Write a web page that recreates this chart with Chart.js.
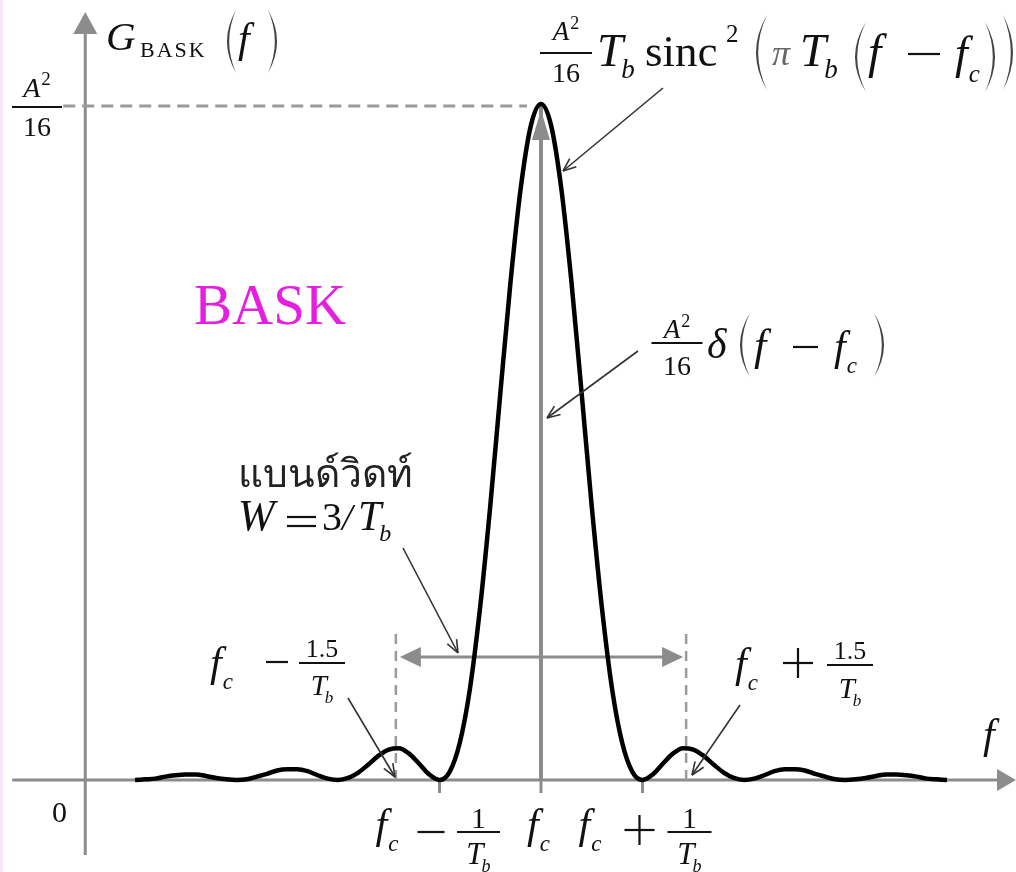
<!DOCTYPE html>
<html>
<head>
<meta charset="utf-8">
<script src="https://cdn.jsdelivr.net/npm/chart.js@4.4.1/dist/chart.umd.min.js"></script>
<style>
  html, body { margin: 0; padding: 0; background: #fff; }
  #wrap { position: relative; width: 1016px; height: 872px; }
</style>
</head>
<body>
<div id="wrap"><canvas id="psd" width="1016" height="872"></canvas></div>
<script>
// Frequency offset from the carrier f_c, in units of 1/T_b
const offsets = [
  -4.0, -3.9, -3.8, -3.7, -3.6, -3.5, -3.4, -3.3, -3.2, -3.1,
  -3.0, -2.9, -2.8, -2.7, -2.6, -2.5, -2.4, -2.3, -2.2, -2.1,
  -2.0, -1.9, -1.8, -1.7, -1.6, -1.5, -1.4, -1.3, -1.2, -1.1,
  -1.0, -0.9, -0.8, -0.7, -0.6, -0.5, -0.4, -0.3, -0.2, -0.1,
   0.0,
   0.1,  0.2,  0.3,  0.4,  0.5,  0.6,  0.7,  0.8,  0.9,  1.0,
   1.1,  1.2,  1.3,  1.4,  1.5,  1.6,  1.7,  1.8,  1.9,  2.0,
   2.1,  2.2,  2.3,  2.4,  2.5,  2.6,  2.7,  2.8,  2.9,  3.0,
   3.1,  3.2,  3.3,  3.4,  3.5,  3.6,  3.7,  3.8,  3.9,  4.0
];

// BASK power spectral density, in units of A^2/16 (peak at f_c)
const psd = [
  0.000, 0.001, 0.002, 0.005, 0.007, 0.008, 0.008, 0.006, 0.003, 0.001,
  0.000, 0.001, 0.005, 0.009, 0.014, 0.016, 0.016, 0.013, 0.007, 0.002,
  0.000, 0.003, 0.011, 0.023, 0.036, 0.045, 0.047, 0.039, 0.024, 0.008,
  0.000, 0.012, 0.055, 0.135, 0.255, 0.405, 0.573, 0.737, 0.875, 0.968,
  1.000,
  0.968, 0.875, 0.737, 0.573, 0.405, 0.255, 0.135, 0.055, 0.012, 0.000,
  0.008, 0.024, 0.039, 0.047, 0.045, 0.036, 0.023, 0.011, 0.003, 0.000,
  0.002, 0.007, 0.013, 0.016, 0.016, 0.014, 0.009, 0.005, 0.001, 0.000,
  0.001, 0.003, 0.006, 0.008, 0.008, 0.007, 0.005, 0.002, 0.001, 0.000
];

// Carrier impulse (A^2/16) delta(f - f_c)
const impulseOffsets = [0, 0];
const impulseLevels = [0, 1];

// Marked frequencies on the f axis: f_c - 1/T_b, f_c, f_c + 1/T_b
const tickOffsets = [-1, 0, 1];
const tickSigns = ['-', '', '+'];

// Bandwidth markers around f_c +- 1.5/T_b (drawn at the first side-lobe peaks)
const bandEdges = [-1.43, 1.43];
const bandArrowLevel = 0.182;
const bandMarkerTop = 0.218;

// Axis extents, in data units
const view = { xMin: -5.33, xMax: 4.68, yMin: -0.1361, yMax: 1.1538 };
const axisExtent = { yAxisAt: -4.49, xFrom: -5.21, xTo: 4.68, yFrom: -0.111, yTo: 1.136 };

const SERIF = '"Liberation Serif", "DejaVu Serif", serif';
const INK = '#111';
const GREY = '#8c8c8c';

function run(ctx, x, y, segs, measureOnly) {
  let cx = x;
  for (const s of segs) {
    ctx.font = (s.it ? 'italic ' : '') + s.sz + 'px ' + (s.ff || SERIF);
    ctx.letterSpacing = (s.ls || 0) + 'px';
    const w = ctx.measureText(s.t).width;
    cx += (s.dx || 0);
    if (!measureOnly) {
      ctx.fillStyle = s.c || INK;
      ctx.fillText(s.t, cx, y + (s.dy || 0));
    }
    cx += w + (s.gap || 0);
  }
  ctx.letterSpacing = '0px';
  return cx - x;
}

function runCentered(ctx, cx, y, segs) {
  const w = run(ctx, 0, 0, segs, true);
  run(ctx, cx - w / 2, y, segs);
}

function frac(ctx, cx, barY, barW, num, numBase, den, denBase) {
  runCentered(ctx, cx, numBase, num);
  runCentered(ctx, cx, denBase, den);
  ctx.fillStyle = INK;
  ctx.fillRect(cx - barW / 2, barY - 1, barW, 2);
}

// operators drawn as strokes
function minus(ctx, x1, x2, y) {
  ctx.fillStyle = INK;
  ctx.fillRect(x1, y - 1.1, x2 - x1, 2.2);
}
function plus(ctx, x1, x2, y) {
  minus(ctx, x1, x2, y);
  const h = (x2 - x1) / 2;
  ctx.fillRect((x1 + x2) / 2 - 1.1, y - h, 2.2, 2 * h);
}
function equals(ctx, x1, x2, y1, y2) {
  minus(ctx, x1, x2, y1);
  minus(ctx, x1, x2, y2);
}

const A2 = sz => [{ t: 'A', it: true, sz }, { t: '2', sz: Math.round(sz * 0.68), dy: -Math.round(sz * 0.42), dx: 1 }];
const Tb = sz => [{ t: 'T', it: true, sz }, { t: 'b', it: true, sz: Math.round(sz * 0.58), dy: Math.round(sz * 0.26), dx: -2 }];
const fc = sz => [{ t: 'f', it: true, sz }, { t: 'c', it: true, sz: Math.round(sz * 0.55), dy: Math.round(sz * 0.3), dx: 1 }];

// thin, tapered bracket
function paren(ctx, xEdge, xBulge, top, bot) {
  const mid = (top + bot) / 2;
  const dir = Math.sign(xEdge - xBulge);
  ctx.beginPath();
  ctx.moveTo(xEdge, top);
  ctx.quadraticCurveTo(2 * xBulge - xEdge, mid, xEdge, bot);
  ctx.quadraticCurveTo(2 * (xBulge + dir * 2.2) - xEdge, mid, xEdge, top);
  ctx.closePath();
  ctx.fillStyle = '#444';
  ctx.fill();
}

function seg(ctx, x1, y1, x2, y2, color, w, dash) {
  ctx.save();
  ctx.beginPath();
  ctx.strokeStyle = color;
  ctx.lineWidth = w;
  ctx.setLineDash(dash || []);
  ctx.moveTo(x1, y1);
  ctx.lineTo(x2, y2);
  ctx.stroke();
  ctx.restore();
}

function solidHead(ctx, tx, ty, ang, len, half, color) {
  const bx = tx - Math.cos(ang) * len, by = ty - Math.sin(ang) * len;
  const nx = -Math.sin(ang) * half, ny = Math.cos(ang) * half;
  ctx.beginPath();
  ctx.moveTo(tx, ty);
  ctx.lineTo(bx + nx, by + ny);
  ctx.lineTo(bx - nx, by - ny);
  ctx.closePath();
  ctx.fillStyle = color;
  ctx.fill();
}

function pointer(ctx, x1, y1, x2, y2) {
  const ang = Math.atan2(y2 - y1, x2 - x1);
  seg(ctx, x1, y1, x2, y2, '#333', 1.6);
  for (const s of [-1, 1]) {
    const a = ang + Math.PI + s * 0.38;
    seg(ctx, x2, y2, x2 + Math.cos(a) * 14, y2 + Math.sin(a) * 14, '#333', 1.6);
  }
}

const decor = {
  id: 'decor',
  beforeDraw(chart) {
    const ctx = chart.ctx;
    ctx.save();
    ctx.fillStyle = '#fff';
    ctx.fillRect(0, 0, chart.width, chart.height);
    ctx.fillStyle = '#fbe6f8';
    ctx.fillRect(0, 0, 3, chart.height);
    ctx.restore();
  },
  beforeDatasetsDraw(chart) {
    const ctx = chart.ctx, xs = chart.scales.x, ys = chart.scales.y;
    const X = v => xs.getPixelForValue(v), Y = v => ys.getPixelForValue(v);
    ctx.save();
    const ax = X(axisExtent.yAxisAt), y0 = Y(0);
    // vertical axis with arrow
    seg(ctx, ax, Y(axisExtent.yFrom), ax, Y(axisExtent.yTo) + 18, GREY, 3);
    solidHead(ctx, ax, Y(axisExtent.yTo), -Math.PI / 2, 22, 12, GREY);
    // horizontal axis with arrow
    seg(ctx, X(axisExtent.xFrom), y0, X(axisExtent.xTo) - 16, y0, GREY, 3);
    solidHead(ctx, X(axisExtent.xTo), y0, 0, 19, 11, GREY);
    // peak level guide
    seg(ctx, ax - 22, Y(1) + 2, X(0) - 14, Y(1) + 2, '#9a9a9a', 3, [12, 7]);
    // ticks
    tickOffsets.forEach(t => seg(ctx, X(t), y0, X(t), y0 + 13, GREY, 3));
    // bandwidth markers
    bandEdges.forEach(b => seg(ctx, X(b), y0, X(b), Y(bandMarkerTop), '#9a9a9a', 2.5, [10, 7]));
    const ya = Y(bandArrowLevel);
    seg(ctx, X(bandEdges[0]) + 18, ya, X(bandEdges[1]) - 18, ya, GREY, 3);
    solidHead(ctx, X(bandEdges[0]) + 4, ya, Math.PI, 21, 10, GREY);
    solidHead(ctx, X(bandEdges[1]) - 3, ya, 0, 21, 10, GREY);
    ctx.restore();
  },
  afterDatasetsDraw(chart) {
    const ctx = chart.ctx, xs = chart.scales.x, ys = chart.scales.y;
    const X = v => xs.getPixelForValue(v), Y = v => ys.getPixelForValue(v);
    ctx.save();
    ctx.textBaseline = 'alphabetic';

    // impulse arrow head
    solidHead(ctx, X(impulseOffsets[1]), Y(impulseLevels[1]) + 6, -Math.PI / 2, 30, 9, GREY);

    // G_BASK(f)
    run(ctx, 106, 50, [{ t: 'G', it: true, sz: 41 }]);
    run(ctx, 140, 57, [{ t: 'BASK', sz: 22, ls: 2 }]);
    paren(ctx, 236, 227, 10, 73);
    run(ctx, 238, 52, [{ t: 'f', it: true, sz: 42 }]);
    paren(ctx, 268, 277, 10, 73);

    // A^2/16 on the vertical axis
    frac(ctx, 37, 107, 50, A2(28), 97, [{ t: '16', sz: 28 }], 136);
    // 0 at the origin
    run(ctx, 52, 822, [{ t: '0', sz: 30 }]);
    // f on the horizontal axis
    run(ctx, 983, 748, [{ t: 'f', it: true, sz: 42 }]);

    // spectrum formula
    frac(ctx, 566, 53, 52, A2(27), 40, [{ t: '16', sz: 28 }], 82);
    run(ctx, 597, 66, Tb(47));
    run(ctx, 645, 66, [{ t: 'sinc', sz: 45 }]);
    run(ctx, 726, 42, [{ t: '2', sz: 25 }]);
    paren(ctx, 767, 756, 15, 90);
    run(ctx, 772, 65, [{ t: 'π', it: true, sz: 36, c: '#666' }]);
    run(ctx, 800, 66, Tb(47));
    paren(ctx, 866, 855, 22, 92);
    run(ctx, 868, 68, [{ t: 'f', it: true, sz: 48 }]);
    minus(ctx, 908, 940, 54);
    run(ctx, 955, 68, fc(46));
    paren(ctx, 985, 995, 22, 92);
    paren(ctx, 1003, 1013, 15, 90);
    pointer(ctx, 663, 88, 563, 171);

    // impulse label
    frac(ctx, 677, 343, 51, A2(27), 338, [{ t: '16', sz: 28 }], 375);
    run(ctx, 707, 358, [{ t: 'δ', it: true, sz: 42 }]);
    paren(ctx, 750, 740, 313, 377);
    run(ctx, 754, 360, [{ t: 'f', it: true, sz: 44 }]);
    minus(ctx, 793, 818, 347);
    run(ctx, 834, 360, fc(42));
    paren(ctx, 874, 884, 313, 377);
    pointer(ctx, 638, 351, 547, 418);

    // modulation name
    run(ctx, 194, 324, [{ t: 'BASK', sz: 57, c: '#e51ee0' }]);

    // bandwidth note
    run(ctx, 238, 487, [{ t: 'แบนด์วิดท์', sz: 39, c: '#222' }]);
    run(ctx, 238, 530, [{ t: 'W', it: true, sz: 44 }]);
    equals(ctx, 287, 316, 517, 526);
    run(ctx, 322, 530, [{ t: '3', sz: 40 }]);
    run(ctx, 342, 530, [{ t: '/', it: true, sz: 38 }]);
    run(ctx, 358, 530, Tb(42));
    pointer(ctx, 403, 548, 458, 653);

    // side-lobe labels
    run(ctx, 210, 676, fc(42));
    minus(ctx, 266, 288, 662);
    frac(ctx, 322, 663, 46, [{ t: '1.5', sz: 26 }], 657, Tb(29), 695);
    pointer(ctx, 348, 698, 395, 777);

    run(ctx, 735, 677, fc(42));
    plus(ctx, 783, 813, 663);
    frac(ctx, 850, 665, 46, [{ t: '1.5', sz: 26 }], 659, Tb(29), 698);
    pointer(ctx, 740, 705, 692, 775);

    // tick labels on the f axis
    tickOffsets.forEach((t, i) => {
      const px = X(t);
      if (tickSigns[i] === '') {
        run(ctx, px - 14, 838, fc(42));
        return;
      }
      run(ctx, px - 64, 838, fc(42));
      if (tickSigns[i] === '-') {
        minus(ctx, px - 22, px + 5, 832);
        frac(ctx, px + 39, 832, 43, [{ t: '1', sz: 30 }], 828, Tb(31), 864);
      } else {
        plus(ctx, px - 18, px + 12, 830);
        frac(ctx, px + 47, 832, 44, [{ t: '1', sz: 30 }], 828, Tb(31), 864);
      }
    });
    ctx.restore();
  }
};

const curve = offsets.map((u, i) => ({ x: u, y: psd[i] }));
const impulse = impulseOffsets.map((u, i) => ({ x: u, y: impulseLevels[i] }));

new Chart(document.getElementById('psd'), {
  type: 'line',
  data: {
    datasets: [
      {
        data: curve,
        borderColor: '#000',
        borderWidth: 4.5,
        pointRadius: 0,
        cubicInterpolationMode: 'monotone',
        fill: false,
        order: 0
      },
      {
        data: impulse,
        borderColor: GREY,
        borderWidth: 4,
        pointRadius: 0,
        fill: false,
        order: 1
      }
    ]
  },
  options: {
    responsive: false,
    animation: false,
    events: [],
    devicePixelRatio: 1,
    layout: { padding: 0, autoPadding: false },
    plugins: { legend: { display: false }, tooltip: { enabled: false } },
    scales: {
      x: { type: 'linear', min: view.xMin, max: view.xMax, display: false },
      y: { type: 'linear', min: view.yMin, max: view.yMax, display: false }
    }
  },
  plugins: [decor]
});
</script>
</body>
</html>
